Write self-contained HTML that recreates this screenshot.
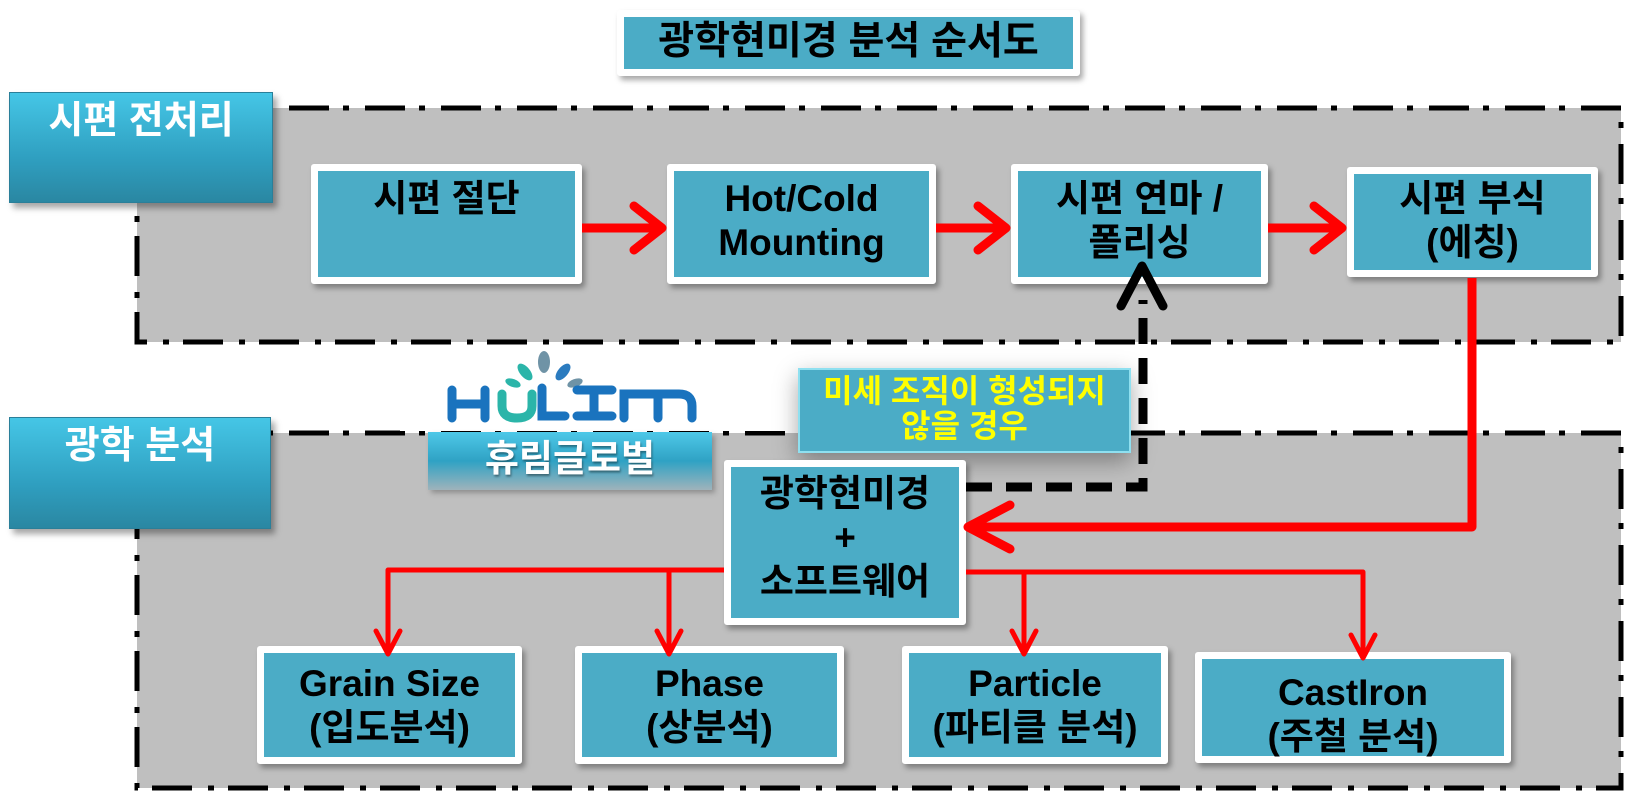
<!DOCTYPE html>
<html><head><meta charset="utf-8">
<style>
body{margin:0;background:#fff;}
#c{position:relative;width:1641px;height:803px;overflow:hidden;background:#fff;font-family:"Liberation Sans","Noto Sans CJK KR",sans-serif;}
.a{position:absolute;box-sizing:border-box;}
.box{background:#4bacc6;border:7px solid #fff;box-shadow:3px 4px 6px rgba(0,0,0,.35);border-radius:3px;text-align:center;font-weight:bold;color:#000;font-size:37px;line-height:44px;white-space:nowrap;}
.lab{background:linear-gradient(#45c6e6,#2f9fc0 60%,#2a87a2);box-shadow:4px 5px 6px rgba(0,0,0,.35);border:1px solid #2a7f99;color:#fff;font-weight:bold;font-size:38px;text-align:center;white-space:nowrap;}
</style></head><body><div id="c">
<svg class="a" style="left:0;top:0" width="1641" height="803">
<rect x="137" y="108" width="1484" height="234" fill="#bfbfbf" stroke="#000" stroke-width="5" stroke-dasharray="40 14 6 16"/>
<rect x="137" y="433" width="1484" height="355" fill="#bfbfbf" stroke="#000" stroke-width="5" stroke-dasharray="40 14 6 16"/>
<rect x="400" y="345" width="390" height="86" fill="#fff"/>
</svg>
<div class="a box" style="left:617px;top:10px;width:463px;height:66px;font-size:39px;line-height:50px;">광학현미경 분석 순서도</div>
<div class="a lab" style="left:9px;top:92px;width:264px;height:111px;line-height:56px;">시편 전처리</div>
<div class="a lab" style="left:9px;top:417px;width:262px;height:112px;line-height:56px;">광학 분석</div>
<div class="a box" style="left:311px;top:164px;width:271px;height:120px;padding-top:6px;">시편 절단</div>
<div class="a box" style="left:667px;top:164px;width:269px;height:120px;padding-top:6px;">Hot/Cold<br>Mounting</div>
<div class="a box" style="left:1011px;top:164px;width:257px;height:120px;padding-top:6px;">시편 연마 /<br>폴리싱</div>
<div class="a box" style="left:1347px;top:167px;width:251px;height:110px;padding-top:3px;">시편 부식<br>(에칭)</div>
<div class="a" style="left:447px;top:350px;width:255px;height:75px;">
<svg width="255" height="75">
<ellipse cx="97" cy="12" rx="6" ry="11" fill="#6f93a6"/>
<ellipse cx="78" cy="22" rx="5" ry="10" fill="#2bb5a9" transform="rotate(-40 78 22)"/>
<ellipse cx="116" cy="22" rx="5" ry="10" fill="#2b7bbf" transform="rotate(40 116 22)"/>
<ellipse cx="66" cy="33" rx="4" ry="8" fill="#2bb5a9" transform="rotate(-70 66 33)"/>
<ellipse cx="128" cy="33" rx="4" ry="8" fill="#6f93a6" transform="rotate(70 128 33)"/>
<g fill="none" stroke="#1a73be" stroke-width="9" stroke-linecap="round">
<path d="M5 40 V68 M5 54 H38 M38 40 V68"/>
<path d="M95 38 V66 H118"/>
<path d="M130 40 H165 M147 40 V66 M130 66 H165"/>
<path d="M177 68 V44 H232 Q245 44 245 56 V68 M211 44 V68"/>
</g>
<path d="M55 44 V56 Q55 68 70 68 Q85 68 85 56 V44" fill="none" stroke="#2bb5a9" stroke-width="9" stroke-linecap="round"/>
</svg></div>
<div class="a" style="left:428px;top:432px;width:284px;height:58px;background:linear-gradient(#4ec8e8,#2fa2c4 50%,#9fb3bb);box-shadow:3px 3px 5px rgba(0,0,0,.25);color:#fff;font-weight:bold;font-size:37px;text-align:center;line-height:54px;text-shadow:1px 2px 2px rgba(0,0,0,.4);white-space:nowrap;">휴림글로벌</div>
<div class="a" style="left:798px;top:368px;width:333px;height:85px;background:#4bacc6;border:2px solid #8fe0f0;box-shadow:0 8px 22px rgba(0,0,0,.35);color:#ffff00;font-weight:bold;font-size:32px;line-height:35px;text-align:center;padding-top:4px;white-space:nowrap;">미세 조직이 형성되지<br>않을 경우</div>
<div class="a box" style="left:724px;top:460px;width:242px;height:165px;line-height:44px;padding-top:5px;">광학현미경<br>+<br>소프트웨어</div>
<div class="a box" style="left:257px;top:646px;width:265px;height:118px;padding-top:9px;">Grain Size<br>(입도분석)</div>
<div class="a box" style="left:575px;top:646px;width:269px;height:118px;padding-top:9px;">Phase<br>(상분석)</div>
<div class="a box" style="left:902px;top:646px;width:266px;height:118px;padding-top:9px;">Particle<br>(파티클 분석)</div>
<div class="a box" style="left:1195px;top:652px;width:316px;height:111px;padding-top:12px;">CastIron<br>(주철 분석)</div>
<svg class="a" style="left:0;top:0" width="1641" height="803">
<g stroke="#ff0000" fill="none" stroke-linecap="round" stroke-linejoin="round">
<g stroke-width="9">
<path d="M582 228 H660" stroke-linecap="butt"/><path d="M634 206 L662 228 L634 250"/>
<path d="M936 228 H1004" stroke-linecap="butt"/><path d="M978 206 L1006 228 L978 250"/>
<path d="M1268 228 H1340" stroke-linecap="butt"/><path d="M1314 206 L1342 228 L1314 250"/>
<path d="M1472 278 V527 H972" stroke-linecap="butt"/><path d="M1010 505 L968 527 L1010 549"/>
</g>
<g stroke-width="5">
<path d="M724 570 H388 V652" stroke-linecap="butt"/><path d="M376 631 L388 654 L400 631"/>
<path d="M669 570 V652" stroke-linecap="butt"/><path d="M657 631 L669 654 L681 631"/>
<path d="M966 572 H1363 V656" stroke-linecap="butt"/><path d="M1351 635 L1363 658 L1375 635"/>
<path d="M1024 572 V652" stroke-linecap="butt"/><path d="M1012 631 L1024 654 L1036 631"/>
</g>
</g>
<path d="M966 487 H1143 V300" fill="none" stroke="#000" stroke-width="9" stroke-dasharray="26 14"/>
<path d="M1121 306 L1142 266 L1163 306" fill="none" stroke="#000" stroke-width="9" stroke-linecap="round" stroke-linejoin="round"/>
</svg>
</div></body></html>
